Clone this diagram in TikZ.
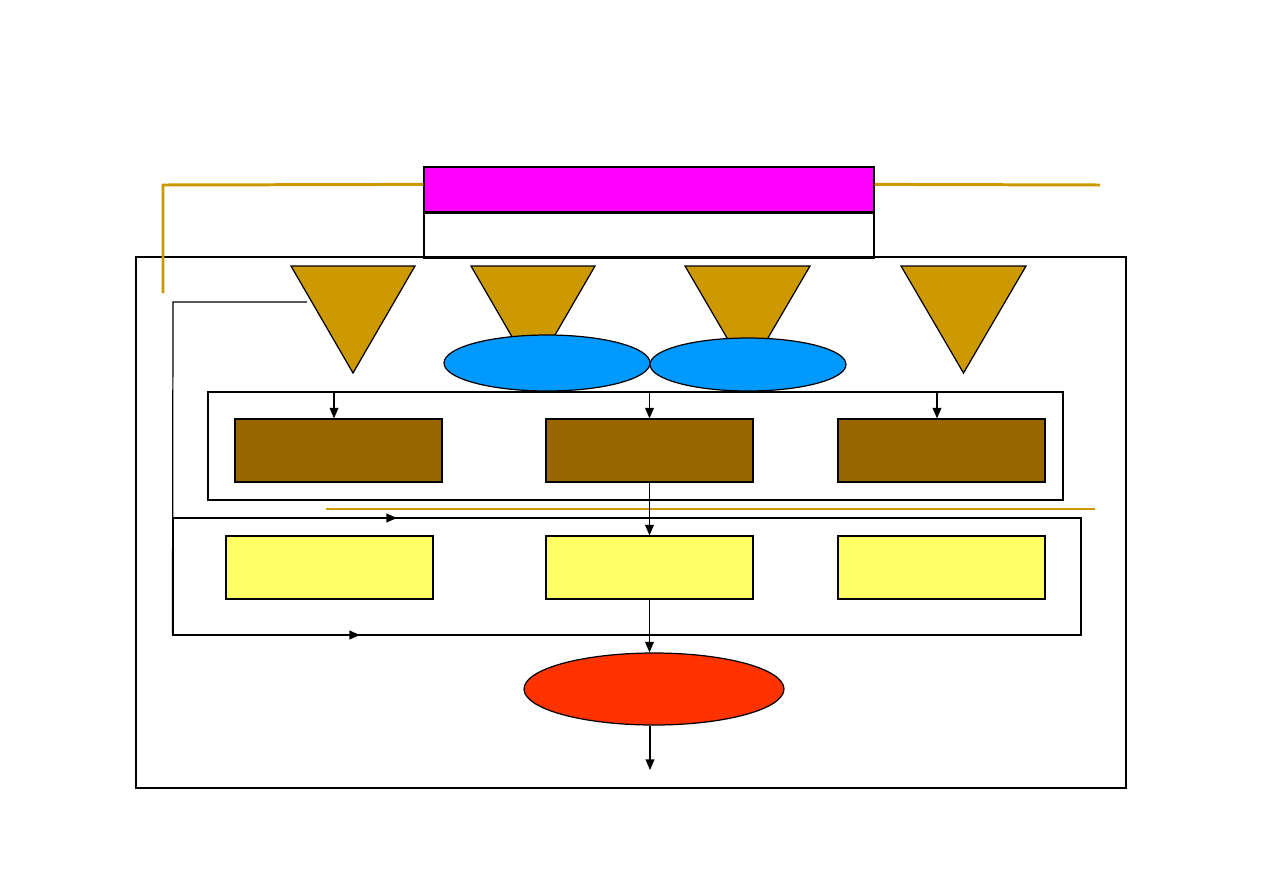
\documentclass[tikz,border=0pt]{standalone}
\usetikzlibrary{calc, arrows.meta, shapes.geometric, positioning}
\definecolor{gold}{HTML}{CC9900}
\definecolor{magentabox}{HTML}{FF00FF}
\definecolor{skyblue}{HTML}{0099FF}
\definecolor{brownbox}{HTML}{996600}
\definecolor{lemon}{HTML}{FFFF66}
\definecolor{redorange}{HTML}{FF3300}

\begin{document}
\begin{tikzpicture}[x=0.02cm, y=-0.02cm, line width=0.7pt,
  boxA/.style={draw, rectangle, inner sep=0pt, minimum width=4.14cm, minimum height=1.26cm, fill=brownbox},
  boxB/.style={draw, rectangle, inner sep=0pt, minimum width=4.14cm, minimum height=1.26cm, fill=lemon},
  frame/.style={draw, rectangle, inner sep=0pt},
  arr/.style={-{Triangle[length=6pt, width=5pt]}}]
\useasboundingbox (0,0) rectangle (1263,893);

%top title boxes
\node[frame, fill=magentabox, minimum width=9cm, minimum height=0.9cm] (title) at (649,189.5) {};
\node[frame, minimum width=9cm, minimum height=0.9cm, anchor=north] (sub) at (title.south) {};
\node[frame, minimum width=19.8cm, minimum height=10.62cm] (outer) at (631,522.5) {};

%gold lines
\draw[gold, line width=1.7pt] (163,293) -- (163,185) -- ($(title.north west)+(0,18)$);
\draw[gold, line width=1.7pt] ($(title.north east)+(0,18)$) -- (1100,185);
\draw[gold, line width=1.1pt] (326,509) -- (1095,509);

%feedback line on the left
\coordinate (fbstart) at (307,302);
\node[frame, minimum width=18.16cm, minimum height=2.34cm] (contB) at (627,576.5) {};
\draw (fbstart) -- (173,302) -- (contB.south west);

%triangles
\draw[fill=gold] (291,266) -- (415,266) -- (353,373) -- cycle;
\draw[fill=gold] (471,266) -- (595,266) -- (533,373) -- cycle;
\draw[fill=gold] (685,266) -- (810,266) -- (747.5,373) -- cycle;
\draw[fill=gold] (901,266) -- (1026,266) -- (963.5,373) -- cycle;

%ellipses
\node[ellipse, draw, fill=skyblue, inner sep=0pt, minimum width=4.12cm, minimum height=1.12cm] (e1) at (547,363) {};
\node[ellipse, draw, fill=skyblue, inner sep=0pt, minimum width=3.92cm, minimum height=1.06cm] (e2) at (748,364.5) {};

%first row
\node[frame, minimum width=17.1cm, minimum height=2.16cm] (contA) at (635.5,446) {};
\node[boxA] (a1) at (338.5,450.5) {};
\node[boxA] (a2) at (649.5,450.5) {};
\node[boxA] (a3) at (941.5,450.5) {};
\coordinate (in1) at (334,392);
\coordinate (in3) at (937,392);
\draw[arr] (in1) -- (in1 |- a1.north);
\draw[arr] (a2.north |- contA.north) -- (a2.north);
\draw[arr] (in3) -- (in3 |- a3.north);

%second row
\node[boxB] (b1) at (329.5,567.5) {};
\node[boxB] (b2) at (649.5,567.5) {};
\node[boxB] (b3) at (941.5,567.5) {};
\draw[arr] (a2.south) -- (b2.north);
\coordinate (s1) at (280,518);
\coordinate (t1) at (397,518);
\draw[arr] (s1) -- (t1);
\coordinate (s2) at (262,635);
\coordinate (t2) at (360,635);
\draw[arr] (s2) -- (t2);

%result
\node[ellipse, draw, fill=redorange, inner sep=0pt, minimum width=5.2cm, minimum height=1.44cm] (res) at (654,689) {};
\draw[arr] (b2.south) -- (b2.south |- res.north);
\coordinate (out) at (650,770);
\draw[arr] (res.south -| out) -- (out);

\end{tikzpicture}
\end{document}
